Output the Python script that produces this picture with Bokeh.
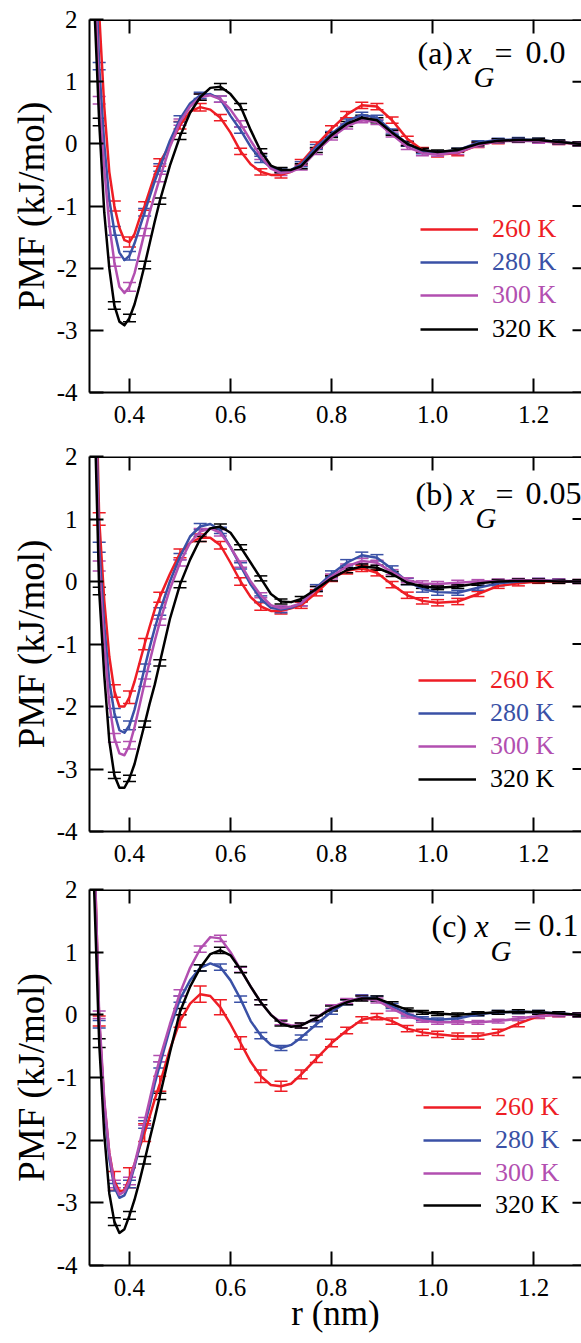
from bokeh.plotting import figure
from bokeh.models import (ColumnDataSource, Whisker, TeeHead, FixedTicker,
                          Label, Legend, LegendItem, Range1d, Span)
from bokeh.layouts import column
from bokeh.embed import file_html
from bokeh.resources import INLINE

# ---------------- data ----------------
R = [0.33, 0.34, 0.35, 0.36, 0.37, 0.38, 0.39, 0.40, 0.41, 0.42, 0.43, 0.44, 0.45, 0.46,
     0.48, 0.50, 0.52, 0.54, 0.56, 0.58, 0.60, 0.62, 0.64, 0.66, 0.68, 0.70, 0.72, 0.74,
     0.77, 0.80, 0.83, 0.86, 0.89, 0.92, 0.95, 0.98, 1.01,
     1.05, 1.09, 1.13, 1.17, 1.21, 1.25, 1.29, 1.33]
BAR_R = [0.34, 0.37, 0.40, 0.43, 0.46, 0.50, 0.54, 0.58, 0.62, 0.66, 0.70, 0.74, 0.77, 0.80,
         0.83, 0.86, 0.89, 0.92, 0.95, 0.98, 1.01, 1.05, 1.09, 1.13, 1.17, 1.21, 1.25, 1.29]

TEMPS = ["260 K", "280 K", "300 K", "320 K"]
X_TICKS = [0.4, 0.6, 0.8, 1.0, 1.2]
X_TICK_LABELS = ["0.4", "0.6", "0.8", "1.0", "1.2"]
Y_TICKS = [-4, -3, -2, -1, 0, 1, 2]
Y_TICK_LABELS = ["-4", "-3", "-2", "-1", "0", "1", "2"]
PANEL_TAGS = ["(a)", "(b)", "(c)"]
PANEL_XG = ["0.0", "0.05", "0.1"]

# panel (a) x_G = 0.0
PMF_A_260 = [4.0, 2.1, 0.6, -0.45, -1.0, -1.35, -1.55, -1.58, -1.45, -1.2, -1.0, -0.75, -0.5, -0.3,
             -0.02, 0.3, 0.52, 0.59, 0.55, 0.42, 0.18, -0.12, -0.33, -0.45, -0.5, -0.5, -0.45, -0.3,
             -0.02, 0.24, 0.47, 0.62, 0.6, 0.38, 0.08, -0.1, -0.17,
             -0.15, -0.02, 0.04, 0.06, 0.05, 0.02, 0.0, 0.0]
PMF_A_280 = [3.5, 1.25, 0.0, -0.9, -1.4, -1.75, -1.87, -1.8, -1.6, -1.35, -1.1, -0.85, -0.6, -0.38,
             0.05, 0.4, 0.65, 0.78, 0.8, 0.72, 0.45, 0.22, -0.05, -0.25, -0.38, -0.43, -0.42, -0.33,
             -0.05, 0.16, 0.36, 0.47, 0.42, 0.2, 0.0, -0.12, -0.14,
             -0.1, 0.02, 0.06, 0.07, 0.06, 0.03, 0.0, 0.0]
PMF_A_300 = [3.0, 0.7, -0.4, -1.3, -1.9, -2.3, -2.4, -2.3, -2.08, -1.75, -1.42, -1.1, -0.82, -0.55,
             -0.05, 0.35, 0.6, 0.75, 0.78, 0.72, 0.55, 0.32, 0.05, -0.2, -0.4, -0.47, -0.45, -0.38,
             -0.12, 0.1, 0.28, 0.38, 0.35, 0.15, -0.05, -0.15, -0.17,
             -0.14, -0.02, 0.04, 0.05, 0.04, 0.02, 0.0, 0.0]
PMF_A_320 = [2.3, 0.35, -1.1, -2.0, -2.6, -2.86, -2.92, -2.8, -2.58, -2.28, -1.95, -1.6, -1.25, -0.92,
             -0.35, 0.12, 0.5, 0.75, 0.9, 0.92, 0.8, 0.6, 0.22, -0.12, -0.35, -0.42, -0.42, -0.36,
             -0.1, 0.14, 0.32, 0.42, 0.38, 0.18, 0.0, -0.1, -0.13,
             -0.1, 0.0, 0.05, 0.06, 0.06, 0.03, 0.0, 0.0]

# panel (b) x_G = 0.05
PMF_B_260 = [4.5, 1.0, -0.3, -1.2, -1.75, -2.0, -2.0, -1.85, -1.6, -1.3, -1.0, -0.72, -0.45, -0.25,
             0.12, 0.45, 0.62, 0.7, 0.7, 0.58, 0.3, 0.0, -0.25, -0.4, -0.47, -0.47, -0.43, -0.38,
             -0.18, 0.05, 0.17, 0.21, 0.14, -0.05, -0.22, -0.31, -0.34,
             -0.32, -0.2, -0.07, -0.03, 0.0, 0.0, 0.0, 0.0]
PMF_B_280 = [4.0, 0.55, -0.7, -1.6, -2.1, -2.38, -2.42, -2.3, -2.05, -1.72, -1.38, -1.05, -0.75, -0.48,
             0.0, 0.4, 0.72, 0.88, 0.92, 0.82, 0.55, 0.25, -0.05, -0.28, -0.42, -0.45, -0.42, -0.35,
             -0.1, 0.12, 0.3, 0.42, 0.38, 0.2, 0.0, -0.12, -0.17,
             -0.18, -0.1, -0.03, 0.0, 0.02, 0.01, 0.0, 0.0]
PMF_B_300 = [3.5, 0.25, -1.0, -1.95, -2.5, -2.75, -2.78, -2.62, -2.33, -1.98, -1.62, -1.28, -0.95, -0.65,
             -0.12, 0.3, 0.62, 0.8, 0.85, 0.78, 0.55, 0.28, 0.0, -0.22, -0.38, -0.43, -0.4, -0.35,
             -0.12, 0.08, 0.24, 0.33, 0.3, 0.15, 0.02, -0.03, -0.04,
             -0.02, 0.0, 0.01, 0.02, 0.02, 0.01, 0.0, 0.0]
PMF_B_320 = [3.0, -0.15, -1.5, -2.55, -3.1, -3.3, -3.3, -3.15, -2.92, -2.6, -2.28, -1.95, -1.65, -1.3,
             -0.6, -0.05, 0.35, 0.68, 0.85, 0.88, 0.78, 0.55, 0.3, 0.05, -0.2, -0.32, -0.33, -0.28,
             -0.12, 0.05, 0.18, 0.24, 0.22, 0.12, -0.02, -0.08, -0.1,
             -0.08, -0.03, 0.0, 0.01, 0.01, 0.0, 0.0, 0.0]

# panel (c) x_G = 0.1
PMF_C_260 = [2.8, -0.1, -1.4, -2.2, -2.65, -2.82, -2.8, -2.6, -2.38, -2.12, -1.88, -1.62, -1.35, -1.1,
             -0.55, -0.1, 0.18, 0.33, 0.3, 0.12, -0.15, -0.45, -0.75, -0.98, -1.12, -1.14, -1.1, -0.95,
             -0.7, -0.45, -0.25, -0.08, -0.03, -0.1, -0.22, -0.28, -0.31,
             -0.34, -0.34, -0.28, -0.14, -0.02, 0.0, 0.0, 0.0]
PMF_C_280 = [2.6, -0.15, -1.45, -2.3, -2.75, -2.92, -2.88, -2.7, -2.42, -2.1, -1.75, -1.45, -1.1, -0.8,
             -0.22, 0.25, 0.55, 0.75, 0.82, 0.76, 0.55, 0.25, -0.1, -0.33, -0.48, -0.53, -0.48, -0.36,
             -0.15, 0.05, 0.2, 0.28, 0.26, 0.14, 0.02, -0.06, -0.08,
             -0.06, 0.01, 0.04, 0.05, 0.04, 0.02, 0.0, 0.0]
PMF_C_300 = [2.7, 0.0, -1.35, -2.2, -2.7, -2.87, -2.82, -2.65, -2.38, -2.05, -1.7, -1.35, -1.0, -0.7,
             -0.15, 0.35, 0.75, 1.05, 1.24, 1.22, 1.0, 0.72, 0.45, 0.2, 0.0, -0.12, -0.17, -0.17,
             -0.05, 0.12, 0.22, 0.27, 0.23, 0.1, -0.02, -0.09, -0.12,
             -0.12, -0.12, -0.1, -0.06, -0.02, 0.0, 0.0, 0.0]
PMF_C_320 = [2.0, -0.45, -1.9, -2.85, -3.3, -3.48, -3.42, -3.2, -2.95, -2.65, -2.32, -1.98, -1.65, -1.3,
             -0.6, 0.05, 0.45, 0.75, 0.97, 1.03, 0.95, 0.72, 0.45, 0.2, 0.0, -0.14, -0.19, -0.17,
             -0.05, 0.1, 0.2, 0.26, 0.26, 0.17, 0.08, 0.04, 0.02,
             0.0, 0.02, 0.04, 0.05, 0.04, 0.02, 0.0, 0.0]

# error bar half-widths at BAR_R
ERR_A_260 = [0.07, 0.08, 0.08, 0.07, 0.06, 0.06, 0.06, 0.05, 0.05, 0.05, 0.05, 0.05, 0.05, 0.05,
             0.05, 0.05, 0.05, 0.05, 0.04, 0.04, 0.04, 0.04, 0.04, 0.04, 0.03, 0.03, 0.03, 0.03]
ERR_A_280 = [0.06, 0.07, 0.07, 0.06, 0.06, 0.05, 0.05, 0.05, 0.05, 0.05, 0.04, 0.04, 0.04, 0.04,
             0.04, 0.04, 0.04, 0.04, 0.04, 0.04, 0.03, 0.03, 0.03, 0.03, 0.03, 0.03, 0.03, 0.03]
ERR_A_300 = [0.06, 0.07, 0.07, 0.06, 0.06, 0.05, 0.05, 0.05, 0.05, 0.05, 0.04, 0.04, 0.05, 0.04,
             0.04, 0.04, 0.04, 0.04, 0.04, 0.04, 0.03, 0.03, 0.03, 0.03, 0.03, 0.03, 0.03, 0.03]
ERR_A_320 = [0.06, 0.06, 0.06, 0.06, 0.05, 0.05, 0.05, 0.05, 0.05, 0.04, 0.04, 0.04, 0.04, 0.04,
             0.04, 0.04, 0.04, 0.04, 0.03, 0.03, 0.03, 0.03, 0.03, 0.03, 0.03, 0.03, 0.03, 0.03]
ERR_B_260 = [0.10, 0.10, 0.10, 0.09, 0.08, 0.07, 0.06, 0.06, 0.06, 0.06, 0.05, 0.05, 0.05, 0.05,
             0.05, 0.05, 0.05, 0.05, 0.05, 0.05, 0.05, 0.05, 0.04, 0.04, 0.04, 0.03, 0.03, 0.03]
ERR_B_280 = [0.08, 0.07, 0.07, 0.06, 0.06, 0.05, 0.05, 0.05, 0.05, 0.05, 0.05, 0.04, 0.05, 0.05,
             0.05, 0.05, 0.05, 0.05, 0.05, 0.05, 0.05, 0.04, 0.04, 0.04, 0.03, 0.03, 0.03, 0.03]
ERR_B_300 = [0.08, 0.07, 0.06, 0.06, 0.05, 0.05, 0.05, 0.05, 0.05, 0.04, 0.04, 0.04, 0.04, 0.04,
             0.04, 0.04, 0.04, 0.04, 0.04, 0.04, 0.04, 0.04, 0.03, 0.03, 0.03, 0.03, 0.03, 0.03]
ERR_B_320 = [0.06, 0.05, 0.05, 0.05, 0.05, 0.05, 0.04, 0.04, 0.04, 0.04, 0.04, 0.04, 0.04, 0.04,
             0.04, 0.04, 0.04, 0.04, 0.03, 0.03, 0.03, 0.03, 0.03, 0.03, 0.03, 0.03, 0.03, 0.03]
ERR_C_260 = [0.08, 0.15, 0.16, 0.14, 0.12, 0.10, 0.13, 0.12, 0.10, 0.10, 0.08, 0.07, 0.06, 0.06,
             0.05, 0.05, 0.05, 0.05, 0.05, 0.05, 0.05, 0.05, 0.05, 0.05, 0.05, 0.04, 0.03, 0.03]
ERR_C_280 = [0.06, 0.06, 0.06, 0.06, 0.05, 0.05, 0.05, 0.05, 0.05, 0.05, 0.04, 0.04, 0.04, 0.04,
             0.04, 0.04, 0.04, 0.04, 0.04, 0.03, 0.03, 0.03, 0.03, 0.03, 0.03, 0.03, 0.03, 0.03]
ERR_C_300 = [0.06, 0.06, 0.06, 0.06, 0.05, 0.05, 0.05, 0.05, 0.04, 0.04, 0.04, 0.04, 0.04, 0.04,
             0.04, 0.04, 0.04, 0.04, 0.03, 0.03, 0.03, 0.03, 0.03, 0.03, 0.03, 0.03, 0.03, 0.03]
ERR_C_320 = [0.07, 0.06, 0.06, 0.06, 0.05, 0.05, 0.05, 0.05, 0.05, 0.04, 0.04, 0.04, 0.04, 0.04,
             0.04, 0.04, 0.04, 0.04, 0.03, 0.03, 0.03, 0.03, 0.03, 0.03, 0.03, 0.03, 0.03, 0.03]

PANELS = [
    ([PMF_A_260, PMF_A_280, PMF_A_300, PMF_A_320], [ERR_A_260, ERR_A_280, ERR_A_300, ERR_A_320]),
    ([PMF_B_260, PMF_B_280, PMF_B_300, PMF_B_320], [ERR_B_260, ERR_B_280, ERR_B_300, ERR_B_320]),
    ([PMF_C_260, PMF_C_280, PMF_C_300, PMF_C_320], [ERR_C_260, ERR_C_280, ERR_C_300, ERR_C_320]),
]

# ---------------- style / layout ----------------
FONT = "Liberation Serif"
COLORS = ["#ee1d25", "#3a51a6", "#b24fb0", "#000000"]
X_START, X_END = 0.3208, 1.295
WIDTH = 581
LEFT = 89
FRAME_W = WIDTH - LEFT

# per panel: height, border top, border bottom
SIZES = [(442, 19, 50), (433, 14, 44), (468, 14, 78)]
# legend: x (screen from frame left), row centres (screen from frame bottom)
LEG_X = [331, 329, 334]
LEG_ROWS = [[165, 132, 99, 65], [153, 120, 87, 54], [160, 127, 94, 62]]
# panel label pieces: x of "(a)", "x", "G", "=", value ; baseline y, subscript baseline y
LAB_X = [[328, 368, 384, 405, 436], [326, 371, 386, 406, 436], [342, 385, 401, 424, 449]]
LAB_Y = [(340, 316), (338, 314), (340, 315)]


def style_axis(ax, ticks, labels):
    ax.ticker = FixedTicker(ticks=ticks)
    ax.major_label_overrides = {t: l for t, l in zip(ticks, labels)}
    ax.major_tick_in = 14
    ax.major_tick_out = 0
    ax.minor_tick_line_color = None
    ax.major_tick_line_color = "black"
    ax.major_tick_line_width = 2
    ax.axis_line_color = "black"
    ax.axis_line_width = 2
    ax.major_label_text_font = FONT
    ax.major_label_text_color = "black"
    ax.major_label_text_font_size = "25px"


def make_panel(k):
    series, errs = PANELS[k]
    h, bt, bb = SIZES[k]
    frame_h = h - bt - bb
    p = figure(width=WIDTH, height=h, x_range=Range1d(X_START, X_END), y_range=Range1d(-4, 2),
               output_backend="svg", toolbar_location=None,
               min_border_left=LEFT, min_border_right=0, min_border_top=bt, min_border_bottom=bb)
    p.outline_line_color = None
    p.xgrid.visible = False
    p.ygrid.visible = False
    p.background_fill_color = "white"
    p.border_fill_color = "white"

    xa = p.xaxis[0]
    style_axis(xa, X_TICKS, X_TICK_LABELS)
    xa.major_label_standoff = 13
    ya = p.yaxis[0]
    style_axis(ya, Y_TICKS, Y_TICK_LABELS)
    ya.major_label_standoff = 12
    ya.axis_label = "PMF (kJ/mol)"
    ya.axis_label_text_font = FONT
    ya.axis_label_text_font_size = "37px"
    ya.axis_label_text_font_style = "normal"
    ya.axis_label_text_color = "black"
    ya.axis_label_standoff = 2

    # top frame line and inward ticks on the top and right edges
    p.add_layout(Span(location=2, dimension="width", line_color="black", line_width=3))
    dy = 6.0 * 14 / frame_h
    dx = (X_END - X_START) * 9 / FRAME_W
    p.segment(x0=X_TICKS, y0=[2] * len(X_TICKS), x1=X_TICKS, y1=[2 - dy] * len(X_TICKS),
              line_color="black", line_width=2)
    p.segment(x0=[X_END] * len(Y_TICKS), y0=Y_TICKS, x1=[X_END - dx] * len(Y_TICKS), y1=Y_TICKS,
              line_color="black", line_width=2)

    renderers = []
    for vals, err, color in zip(series, errs, COLORS):
        r = p.line(R, vals, line_color=color, line_width=2.5, line_join="round")
        renderers.append(r)
        bx, lo, up = [], [], []
        for b, e in zip(BAR_R, err):
            i = min(range(len(R)), key=lambda j: abs(R[j] - b))
            v = vals[i]
            if -4 <= v <= 2:
                bx.append(R[i]); lo.append(v - e); up.append(v + e)
        src = ColumnDataSource(dict(r=bx, lo=lo, up=up))
        w = Whisker(source=src, base="r", lower="lo", upper="up", line_color=color, line_width=1.5,
                    upper_head=TeeHead(size=13, line_color=color, line_width=1.5),
                    lower_head=TeeHead(size=13, line_color=color, line_width=1.5))
        p.add_layout(w)

    # legend: one entry per temperature so each label keeps its own colour
    for name, rend, color, yc in zip(TEMPS, renderers, COLORS, LEG_ROWS[k]):
        leg = Legend(items=[LegendItem(label=name, renderers=[rend])],
                     location=(LEG_X[k], yc - 17), orientation="vertical",
                     glyph_width=58, glyph_height=28, label_height=28, label_standoff=14,
                     padding=0, margin=0, spacing=0, border_line_color=None,
                     background_fill_alpha=0, label_text_font=FONT,
                     label_text_font_size="26px", label_text_color=color,
                     label_text_baseline="middle")
        p.add_layout(leg)

    # panel label "(a) x_G = 0.0"
    xs = LAB_X[k]
    yb, ys = LAB_Y[k]
    pieces = [(PANEL_TAGS[k], xs[0], yb, "normal", "32px"),
              ("x", xs[1], yb, "italic", "32px"),
              ("G", xs[2], ys, "italic", "29px"),
              ("=", xs[3], yb, "normal", "32px"),
              (PANEL_XG[k], xs[4], yb, "normal", "32px")]
    for txt, x, y, style, size in pieces:
        p.add_layout(Label(x=x, y=y, x_units="screen", y_units="screen", text=txt,
                           text_font=FONT, text_font_size=size, text_font_style=style,
                           text_color="black", text_align="left", text_baseline="alphabetic"))
    return p


figs = [make_panel(k) for k in range(3)]

# x-axis title on the bottom panel
xa_c = figs[2].xaxis[0]
xa_c.axis_label = "r (nm)"
xa_c.axis_label_text_font = FONT
xa_c.axis_label_text_font_size = "35px"
xa_c.axis_label_text_font_style = "normal"
xa_c.axis_label_text_color = "black"
xa_c.axis_label_standoff = -5

layout = column(*figs, spacing=0)
open("out.html", "w").write(file_html(layout, INLINE))
